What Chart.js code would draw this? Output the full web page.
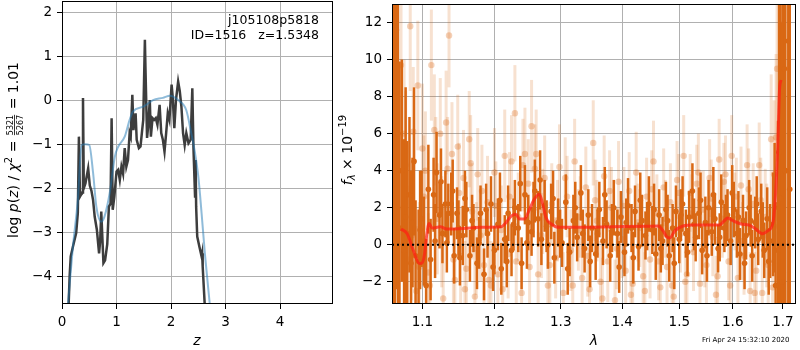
<!DOCTYPE html>
<html>
<head>
<meta charset="utf-8">
<script src="https://cdn.jsdelivr.net/npm/chart.js@4.4.0/dist/chart.umd.min.js"></script>
<style>
body{margin:0;background:#fff;}
#wrap{position:relative;width:800px;height:350px;background:#fff;}
canvas{position:absolute;top:0;}
</style>
</head>
<body>
<div id="wrap">
<canvas id="pz" width="340" height="350" style="left:0"></canvas>
<canvas id="spec" width="466" height="350" style="left:334px"></canvas>
</div>
<script>
// left panel: log p(z)
var zDark = [0.12,0.14,0.16,0.20,0.26,0.29,0.31,0.33,0.37,0.385,0.40,0.43,0.48,0.51,0.54,0.57,0.60,0.64,0.68,0.70,0.72,0.76,0.79,0.83,0.86,0.89,0.91,0.93,0.96,1.00,1.03,1.06,1.09,1.12,1.15,1.18,1.21,1.24,1.26,1.29,1.31,1.35,1.37,1.41,1.44,1.47,1.49,1.52,1.53,1.56,1.58,1.61,1.63,1.66,1.69,1.72,1.75,1.79,1.82,1.85,1.88,1.91,1.94,1.97,2.01,2.03,2.06,2.09,2.13,2.16,2.19,2.22,2.25,2.28,2.32,2.36,2.39,2.41,2.44,2.45,2.46,2.48,2.52,2.56,2.57,2.58,2.62];
var pDark = [-4.7,-4.0,-3.55,-3.33,-3.02,-2.57,-0.83,-2.19,-2.1,0.05,-2.0,-1.89,-1.55,-1.94,-2.06,-2.27,-2.65,-2.95,-3.48,-3.2,-2.53,-3.70,-3.64,-3.27,-2.42,-2.35,-0.41,-2.49,-2.19,-1.62,-1.58,-1.81,-1.51,-1.67,-1.09,-1.51,-1.36,-0.75,-0.83,0.12,-0.68,-0.30,-0.90,-1.09,-1.05,-0.68,-0.45,1.37,0.76,-0.86,-0.60,0.0,-0.83,-0.41,-0.45,-0.41,-0.56,-0.11,-0.75,-0.90,-1.17,-0.75,-0.30,-0.45,0.35,0.08,-0.64,0.0,0.42,0.2,-0.15,-0.75,-1.02,-0.75,-0.98,-0.90,0.27,-1.05,-2.19,-1.36,-2.42,-3.10,-3.33,-3.55,-3.48,-3.78,-4.7];
var zBlue = [0.11,0.20,0.29,0.36,0.43,0.50,0.57,0.63,0.72,0.78,0.875,0.97,1.03,1.15,1.24,1.30,1.49,1.67,1.85,1.98,2.13,2.28,2.37,2.43,2.50,2.56,2.62,2.71];
var pBlue = [-4.63,-3.33,-2.27,-1.02,-1.0,-1.02,-1.65,-2.42,-2.76,-2.64,-2.11,-1.28,-1.06,-0.83,-0.45,-0.26,-0.15,0.0,0.05,0.10,0.0,-0.23,-0.75,-1.13,-1.74,-2.57,-3.48,-4.63];
var zTicks = [0, 1, 2, 3, 4];
var pTicks = [-4, -3, -2, -1, 0, 1, 2];
var infoLines = ['j105108p5818', 'ID=1516   z=1.5348'];

// right panel: spectrum
var lamTicks = [1.1, 1.2, 1.3, 1.4, 1.5, 1.6, 1.7];
var fluxTicks = [-2, 0, 2, 4, 6, 8, 10, 12];
var lamModel = [1.072,1.080,1.088,1.096,1.099,1.103,1.106,1.109,1.113,1.124,1.133,1.156,1.179,1.210,1.215,1.225,1.231,1.237,1.244,1.252,1.259,1.267,1.272,1.277,1.285,1.298,1.329,1.384,1.440,1.462,1.471,1.478,1.483,1.492,1.507,1.525,1.574,1.584,1.590,1.600,1.616,1.632,1.645,1.659,1.669,1.679,1.684,1.689,1.693,1.696];
var fModel = [0.85,0.59,-0.30,-1.01,-1.0,-0.48,0.59,1.15,0.90,0.97,0.85,0.88,0.94,0.97,1.12,1.56,1.65,1.39,1.39,1.92,2.45,2.72,2.19,1.47,1.12,0.94,0.94,0.97,1.0,1.01,0.75,0.41,0.37,0.75,1.01,1.06,1.06,1.30,1.44,1.30,1.12,1.06,0.85,0.59,0.75,1.12,2.36,5.03,8.4,8.9];
// [lambda, flux, err]
var darkPts = [[1.062,10.0,16],[1.066,11.6,14],[1.070,0.9,9],[1.073,4.0,6],[1.076,-0.3,6],[1.080,0.6,5],[1.083,2.7,4.2],[1.087,1.2,3.5],[1.091,-0.6,3],[1.095,-0.9,2.8],[1.099,1.4,2.6],[1.102,0.2,2.4],[1.105,-2.2,2.5],[1.108,3.0,2.4],[1.111,-0.8,2.2],[1.115,2.7,2.0],[1.119,3.9,2.2],[1.123,1.6,1.8],[1.127,0.6,1.6],[1.131,2.2,1.8],[1.135,1.7,1.6],[1.139,2.2,1.7],[1.143,-0.6,1.5],[1.147,1.7,1.4],[1.151,-0.7,1.5],[1.155,0.5,1.6],[1.160,1.9,1.5],[1.165,-0.6,1.4],[1.170,0.9,1.3],[1.175,-1.0,1.4],[1.180,1.7,1.5],[1.185,-1.6,1.4],[1.190,0.6,1.3],[1.195,2.2,1.5],[1.200,-0.3,1.3],[1.205,1.1,1.4],[1.210,-1.3,1.4],[1.215,0.3,1.3],[1.220,1.7,1.5],[1.225,-0.3,1.4],[1.230,2.0,1.5],[1.235,0.9,1.3],[1.240,-1.0,1.4],[1.245,2.7,1.6],[1.250,1.2,1.5],[1.255,0.7,1.3],[1.260,2.9,1.7],[1.265,1.4,1.5],[1.270,0.3,1.4],[1.275,2.1,1.4],[1.280,0.0,1.3],[1.285,1.8,1.5],[1.290,-0.7,1.4],[1.296,1.2,1.3],[1.302,0.1,1.3],[1.308,2.3,1.5],[1.314,-0.4,1.3],[1.320,1.3,1.4],[1.326,0.4,1.3],[1.332,2.8,1.5],[1.338,-0.2,1.3],[1.344,1.6,1.4],[1.350,0.9,1.3],[1.356,-0.5,1.4],[1.362,1.9,1.5],[1.368,0.2,1.3],[1.374,1.1,1.3],[1.380,-0.6,1.4],[1.386,2.0,1.5],[1.392,0.6,1.3],[1.398,1.5,1.4],[1.404,-0.4,1.3],[1.410,2.1,1.5],[1.416,0.9,1.3],[1.422,1.8,1.4],[1.428,-0.1,1.3],[1.434,1.3,1.4],[1.440,0.5,1.3],[1.446,2.2,1.5],[1.452,0.8,1.3],[1.458,-0.5,1.4],[1.464,1.6,1.4],[1.470,0.2,1.3],[1.476,1.9,1.5],[1.482,-0.6,1.4],[1.488,0.9,1.3],[1.494,1.8,1.4],[1.500,0.3,1.3],[1.506,2.2,1.5],[1.512,0.6,1.3],[1.518,1.5,1.4],[1.524,2.9,1.5],[1.530,0.4,1.3],[1.536,1.7,1.4],[1.542,-0.3,1.3],[1.548,1.2,1.4],[1.554,2.0,1.5],[1.560,0.7,1.3],[1.566,1.4,1.4],[1.572,-0.2,1.3],[1.578,2.3,1.5],[1.584,0.9,1.3],[1.590,1.6,1.4],[1.596,0.2,1.3],[1.602,1.9,1.5],[1.608,0.6,1.3],[1.614,-0.5,1.4],[1.620,1.3,1.4],[1.626,0.5,1.3],[1.632,2.0,1.5],[1.638,-0.6,1.4],[1.644,1.2,1.4],[1.650,0.3,1.4],[1.656,1.8,1.5],[1.662,-0.3,1.5],[1.668,1.4,1.7],[1.674,0.2,2.0],[1.680,1.1,2.8],[1.685,-2.2,4.5],[1.690,-0.3,7],[1.695,2.5,12],[1.700,8.0,14],[1.705,4.0,16],[1.711,11.0,16],
    [1.064,3.0,12],[1.068,6.0,10],[1.078,1.5,7],[1.085,-1.0,5],[1.089,4.5,4],[1.097,0.8,3.2],[1.117,0.2,2.0],[1.125,3.4,1.8],[1.133,0.1,1.6],[1.141,2.9,1.7],[1.149,0.9,1.5],[1.158,2.5,1.5],[1.168,1.3,1.4],[1.178,0.1,1.4],[1.188,1.9,1.4],[1.198,-1.2,1.3],[1.208,2.4,1.5],[1.218,-0.9,1.4],[1.228,1.1,1.4],[1.238,3.3,1.5],[1.248,0.1,1.4],[1.258,1.9,1.5],[1.268,3.5,1.6],[1.278,1.0,1.4],[1.288,2.5,1.5],[1.299,0.6,1.3],[1.311,-1.3,1.4],[1.323,2.0,1.4],[1.335,0.6,1.3],[1.347,-0.9,1.4],[1.359,0.6,1.3],[1.371,2.7,1.5],[1.383,0.9,1.3],[1.395,-1.2,1.4],[1.407,1.2,1.3],[1.419,-0.7,1.4],[1.431,2.4,1.5],[1.443,1.0,1.3],[1.455,1.9,1.4],[1.467,-0.2,1.3],[1.479,1.3,1.4],[1.491,-1.0,1.4],[1.503,1.6,1.4],[1.515,-0.4,1.3],[1.527,1.1,1.4],[1.539,2.4,1.5],[1.551,-0.6,1.4],[1.563,2.7,1.5],[1.575,0.4,1.3],[1.587,1.3,1.4],[1.599,2.8,1.5],[1.611,1.5,1.4],[1.623,-1.0,1.4],[1.635,1.3,1.4],[1.647,2.2,1.5],[1.659,0.8,1.5],[1.671,-0.9,1.8],[1.683,2.0,3.5],[1.692,5.0,10],[1.698,-2.0,14],[1.703,9.5,16],[1.714,3.0,18]];
var lightPts = [[1.072,9.7,4],[1.076,6.0,4],[1.080,-0.8,4],[1.084,11.8,3.5],[1.088,6.1,3.5],[1.092,-2.5,3.5],[1.096,-1.2,3.5],[1.100,5.2,3.5],[1.104,4.0,3.2],[1.108,-1.5,3.2],[1.112,9.7,3],[1.116,6.2,3],[1.120,1.4,3],[1.124,6.0,3],[1.128,-2.9,3],[1.132,6.6,2.8],[1.136,11.3,2.8],[1.140,4.9,2.8],[1.144,-1.9,2.8],[1.148,5.3,2.8],[1.152,-0.6,2.6],[1.156,3.6,2.6],[1.160,-1.3,2.6],[1.164,5.7,2.6],[1.168,1.8,2.6],[1.172,-2.8,2.5],[1.176,3.8,2.5],[1.180,0.5,2.5],[1.185,-1.1,2.5],[1.190,2.3,2.5],[1.195,-2.2,2.4],[1.200,3.9,2.4],[1.205,-1.6,2.4],[1.210,0.8,2.4],[1.215,4.8,2.5],[1.220,-0.5,2.4],[1.225,4.5,2.5],[1.230,7.1,2.6],[1.235,1.5,2.4],[1.240,-2.6,2.4],[1.245,4.9,2.5],[1.250,3.3,2.4],[1.255,6.4,2.5],[1.260,4.1,2.4],[1.265,-1.6,2.3],[1.270,0.5,2.3],[1.275,3.6,2.3],[1.280,-2.2,2.3],[1.286,2.2,2.2],[1.292,-0.7,2.2],[1.298,4.2,2.3],[1.304,-2.6,2.2],[1.310,2.6,2.2],[1.316,-0.3,2.2],[1.322,4.5,2.3],[1.328,0.8,2.2],[1.334,-1.8,2.2],[1.340,3.1,2.2],[1.346,-2.4,2.2],[1.352,5.5,2.3],[1.358,1.3,2.2],[1.364,-2.0,2.2],[1.370,3.7,2.2],[1.376,-0.9,2.2],[1.382,2.0,2.2],[1.388,-3.0,2.2],[1.394,3.4,2.2],[1.400,0.3,2.1],[1.406,-1.4,2.1],[1.412,2.9,2.1],[1.418,-2.1,2.1],[1.424,3.9,2.2],[1.430,0.9,2.1],[1.436,-1.7,2.1],[1.442,2.6,2.1],[1.448,-0.8,2.1],[1.454,4.5,2.2],[1.460,1.7,2.1],[1.466,-2.3,2.1],[1.472,3.1,2.1],[1.478,-1.2,2.1],[1.484,2.3,2.1],[1.490,-2.8,2.1],[1.496,3.5,2.1],[1.502,0.6,2.1],[1.508,4.8,2.2],[1.514,-1.6,2.1],[1.520,2.8,2.1],[1.526,-0.4,2.1],[1.532,3.3,2.1],[1.538,-2.1,2.1],[1.544,1.9,2.1],[1.550,-1.1,2.1],[1.556,3.6,2.1],[1.562,0.4,2.1],[1.568,-2.7,2.1],[1.574,4.6,2.2],[1.580,1.4,2.1],[1.586,3.8,2.1],[1.592,-0.9,2.1],[1.598,4.8,2.2],[1.604,1.8,2.1],[1.610,-1.8,2.1],[1.616,3.2,2.1],[1.622,-0.6,2.1],[1.628,4.3,2.2],[1.634,-2.5,2.1],[1.640,2.2,2.2],[1.646,-1.4,2.2],[1.652,4.3,2.3],[1.658,-2.6,2.4],[1.664,1.5,2.6],[1.670,-1.1,3],[1.676,5.7,3.5],[1.682,3.8,4],[1.688,9.5,5],[1.694,-1.0,6],[1.698,11.9,6],
    [1.068,2.0,5],[1.078,4.3,4],[1.086,0.5,3.5],[1.094,8.6,3.5],[1.102,2.6,3.3],[1.110,-2.2,3.1],[1.118,3.9,3],[1.126,0.7,3],[1.134,4.1,2.8],[1.142,-0.8,2.8],[1.150,2.8,2.7],[1.158,-2.4,2.6],[1.166,4.4,2.6],[1.174,-0.2,2.5],[1.182,2.9,2.5],[1.192,-1.9,2.5],[1.202,2.1,2.4],[1.212,-2.4,2.4],[1.222,2.6,2.4],[1.232,-0.9,2.4],[1.242,4.3,2.5],[1.252,-1.2,2.4],[1.262,4.9,2.4],[1.272,1.8,2.3],[1.283,-1.1,2.3],[1.295,1.3,2.2],[1.307,3.6,2.2],[1.319,-2.2,2.2],[1.331,1.5,2.2],[1.343,-0.6,2.2],[1.355,2.4,2.2],[1.367,-2.9,2.2],[1.379,2.9,2.2],[1.391,-0.2,2.2],[1.403,2.1,2.1],[1.415,-2.7,2.1],[1.427,1.2,2.1],[1.439,-2.5,2.1],[1.451,3.0,2.1],[1.463,-0.9,2.1],[1.475,1.4,2.1],[1.487,-2.2,2.1],[1.499,2.8,2.1],[1.511,-2.0,2.1],[1.523,1.7,2.1],[1.535,3.9,2.1],[1.547,-0.2,2.1],[1.559,2.5,2.1],[1.571,-1.7,2.1],[1.583,3.4,2.1],[1.595,-2.2,2.1],[1.607,2.6,2.1],[1.619,0.2,2.1],[1.631,3.0,2.2],[1.643,-2.6,2.2],[1.655,2.4,2.3],[1.667,0.5,2.8],[1.679,-2.3,3.5],[1.686,5.8,4.5],[1.692,1.0,6],[1.700,-1.5,8]];
var stamp = 'Fri Apr 24 15:32:10 2020';

var FONT = '"DejaVu Sans"';
var ORANGE = 'rgb(217,104,20)';

function minus(v){ return String(v).replace('-', '\u2212'); }

function drawRich(c, x, y, parts){
    c.save();
    c.translate(x, y);
    c.rotate(-Math.PI/2);
    c.textAlign = 'left';
    c.textBaseline = 'alphabetic';
    var w = 0;
    parts.forEach(function(p){
        c.font = p.f;
        if (p.frac) p.w = Math.max(c.measureText(p.frac[0]).width, c.measureText(p.frac[1]).width) + 2;
        else p.w = c.measureText(p.t).width;
        w += p.w;
    });
    var px = -w/2;
    parts.forEach(function(p){
        c.font = p.f;
        if (p.frac){
            c.textAlign = 'center';
            c.fillText(p.frac[0], px + p.w/2, -5);
            c.fillText(p.frac[1], px + p.w/2, 4.5);
            c.fillRect(px + 1, -4, p.w - 2, 0.8);
            c.textAlign = 'left';
        } else {
            c.fillText(p.t, px, p.dy || 0);
        }
        px += p.w;
    });
    c.restore();
}

var frame = {
    id: 'frame',
    afterDraw: function(chart){
        var a = chart.chartArea, c = chart.ctx;
        c.save();
        c.strokeStyle = '#000';
        c.lineWidth = 1;
        c.strokeRect(a.left + 0.5, a.top + 0.5, a.right - a.left - 1, a.bottom - a.top - 1);
        c.restore();
    }
};

var errbars = {
    id: 'errbars',
    beforeDatasetDraw: function(chart, args){
        var ds = chart.data.datasets[args.index];
        if (!ds.errs) return;
        var c = chart.ctx, a = chart.chartArea;
        var xs = chart.scales.x, ys = chart.scales.y;
        c.save();
        c.beginPath();
        c.rect(a.left, a.top, a.right - a.left, a.bottom - a.top);
        c.clip();
        c.strokeStyle = ds.errColor;
        c.lineWidth = ds.errWidth;
        ds.data.forEach(function(p, i){
            var x = xs.getPixelForValue(p.x);
            c.beginPath();
            c.moveTo(x, ys.getPixelForValue(p.y - ds.errs[i]));
            c.lineTo(x, ys.getPixelForValue(p.y + ds.errs[i]));
            c.stroke();
        });
        c.restore();
    }
};

var R = '14px ' + FONT, I = 'italic 14px ' + FONT;

var leftText = {
    id: 'leftText',
    afterDraw: function(chart){
        var c = chart.ctx;
        c.save();
        c.fillStyle = '#000';
        c.font = '12.5px ' + FONT;
        c.textAlign = 'right';
        c.fillText(infoLines[0], 319, 24);
        c.fillText(infoLines[1], 319, 39);
        c.font = I;
        c.textAlign = 'center';
        c.fillText('z', 197, 345);
        drawRich(c, 18, 150, [
            {t: 'log ', f: R}, {t: 'p', f: I}, {t: '(', f: R}, {t: 'z', f: I}, {t: ') / ', f: R},
            {t: '\u03c7', f: I}, {t: '2', f: '10px ' + FONT, dy: -6}, {t: ' = ', f: R},
            {frac: ['5321', '5267'], f: '8px ' + FONT}, {t: ' = 1.01', f: R}
        ]);
        c.restore();
    }
};

var rightText = {
    id: 'rightText',
    afterDraw: function(chart){
        var c = chart.ctx;
        c.save();
        c.fillStyle = '#000';
        c.font = I;
        c.textAlign = 'center';
        c.fillText('\u03bb', 260, 345);
        c.font = '7px ' + FONT;
        c.textAlign = 'left';
        c.fillText(stamp, 368, 342);
        drawRich(c, 18, 150, [
            {t: 'f', f: I}, {t: '\u03bb', f: 'italic 10px ' + FONT, dy: 3},
            {t: ' \u00d7 10', f: R}, {t: '\u221219', f: '10px ' + FONT, dy: -6}
        ]);
        c.restore();
    }
};

function axisOpts(type, min, max, tickVals, fmt){
    return {
        type: type, min: min, max: max,
        afterBuildTicks: function(s){ s.ticks = tickVals.map(function(v){ return {value: v}; }); },
        grid: {color: '#b0b0b0', lineWidth: 1, tickColor: '#000', tickLength: 5, tickWidth: 1},
        border: {display: false},
        ticks: {color: '#000', font: {family: 'DejaVu Sans', size: 13.5}, padding: 5,
                maxRotation: 0, autoSkip: false, callback: fmt}
    };
}

// ---- left chart
var lx = axisOpts('linear', 0, 4.97, zTicks, function(v){ return minus(v); });
lx.afterFit = function(s){ s.height = 46; s.paddingLeft = 0; s.paddingRight = 0; };
var ly = axisOpts('linear', -4.63, 2.25, pTicks, function(v){ return minus(v); });
ly.afterFit = function(s){ s.width = 62; s.paddingTop = 0; s.paddingBottom = 0; };

new Chart(document.getElementById('pz'), {
    type: 'line',
    data: {
        datasets: [{
            data: zBlue.map(function(z, i){ return {x: z, y: pBlue[i]}; }),
            borderColor: 'rgba(31,119,180,0.5)', borderWidth: 2, pointRadius: 0,
            cubicInterpolationMode: 'monotone', clip: 0, order: 1
        }, {
            data: zDark.map(function(z, i){ return {x: z, y: pDark[i]}; }),
            borderColor: '#3d3d3d', borderWidth: 2.5, pointRadius: 0, tension: 0, clip: 0, order: 2
        }]
    },
    options: {
        responsive: false, animation: false,
        layout: {padding: {top: 1, right: 7, left: 0, bottom: 0}},
        plugins: {legend: {display: false}, tooltip: {enabled: false}},
        scales: {x: lx, y: ly}
    },
    plugins: [frame, leftText]
});

// ---- right chart
var rx = axisOpts('logarithmic', 1.0604, 1.727, lamTicks, function(v){ return Number(v).toFixed(1); });
rx.afterFit = function(s){ s.height = 46; s.paddingLeft = 0; s.paddingRight = 0; };
var ry = axisOpts('linear', -3.2, 13, fluxTicks, function(v){ return minus(v); });
ry.afterFit = function(s){ s.width = 58; s.paddingTop = 0; s.paddingBottom = 0; };

new Chart(document.getElementById('spec'), {
    type: 'scatter',
    data: {
        datasets: [{
            type: 'line',
            data: [{x: 1.0604, y: 0}, {x: 1.727, y: 0}],
            borderColor: '#000', borderWidth: 2, borderDash: [2, 3], pointRadius: 0, clip: 0, order: 0
        }, {
            type: 'line',
            data: lamModel.map(function(l, i){ return {x: l, y: fModel[i]}; }),
            borderColor: 'rgba(255,30,20,0.72)', borderWidth: 3, pointRadius: 0,
            cubicInterpolationMode: 'monotone', clip: 0, order: 1
        }, {
            data: darkPts.map(function(p){ return {x: p[0], y: p[1]}; }),
            errs: darkPts.map(function(p){ return p[2]; }),
            errColor: ORANGE, errWidth: 2.5,
            backgroundColor: ORANGE, borderWidth: 0, pointRadius: 2.8, clip: 0, order: 2
        }, {
            data: lightPts.map(function(p){ return {x: p[0], y: p[1]}; }),
            errs: lightPts.map(function(p){ return p[2]; }),
            errColor: 'rgba(217,104,20,0.2)', errWidth: 3,
            backgroundColor: 'rgba(217,104,20,0.3)', borderWidth: 0, pointRadius: 3.2, clip: 0, order: 3
        }]
    },
    options: {
        responsive: false, animation: false,
        layout: {padding: {top: 1, right: 1, left: 0, bottom: 0}},
        plugins: {legend: {display: false}, tooltip: {enabled: false}},
        scales: {x: rx, y: ry}
    },
    plugins: [errbars, frame, rightText]
});
</script>
</body>
</html>
